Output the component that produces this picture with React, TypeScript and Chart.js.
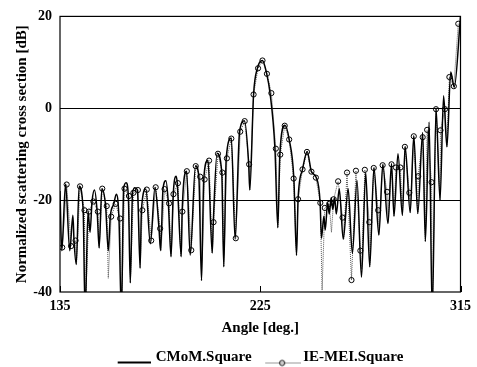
import React, { useEffect, useRef } from 'react';
import { Chart, registerables } from 'chart.js';

Chart.register(...registerables);

const FONT = "'Liberation Serif', 'Times New Roman', serif";

const xTicks = [135, 225, 315];
const yTicks = [20, 0, -20, -40];

const cmomAngles = [
  135.0, 135.8, 137.5, 139.4, 140.8, 141.3, 142.3, 143.6, 145.4, 146.3, 147.6, 148.5, 149.4, 150.5, 151.7, 152.6,
  153.8, 155.5, 156.7, 157.6, 159.2, 160.3, 161.5, 162.6, 163.6, 164.7, 165.7, 166.6, 167.6, 168.7, 169.8, 171.0,
  171.6, 173.6, 175.6, 177.7, 179.5, 180.2, 181.3, 182.6, 183.7, 184.9, 185.9, 187.2, 187.7, 189.5, 189.9, 191.9,
  193.5, 195.9, 197.4, 198.6, 199.6, 201.5, 203.4, 203.9, 205.6, 207.7, 208.6, 209.7, 212.0, 213.7, 215.7, 217.9,
  219.8, 220.3, 222.0, 223.7, 226.0, 227.9, 229.4, 231.6, 232.9, 233.8, 236.1, 238.0, 240.1, 241.3, 242.0, 244.0,
  246.1, 248.0, 250.2, 251.9, 252.5, 253.6, 254.2, 255.3, 256.0, 256.9, 257.6, 258.4, 259.2, 260.5, 262.3, 264.5,
  266.4, 268.5, 270.5, 272.4, 274.2, 276.1, 278.3, 280.1, 282.4, 284.0, 285.1, 286.9, 288.9, 290.1, 292.4, 294.0,
  295.8, 298.0, 299.2, 300.9, 302.3, 304.0, 305.8, 307.4, 308.9, 310.6, 312.2, 315.0,
];
const cmomValues = [
  -18, -31, -16.5, -31, -23.3, -28.8, -34, -17, -22.2, -45, -22.3, -27, -20.3, -17.8, -22.5, -30.4,
  -17.5, -21.3, -31, -23.6, -20.8, -18.7, -24, -45, -17.5, -16.2, -19, -38, -18.4, -17.3, -17.8, -34.8,
  -22.2, -17.6, -29.5, -17.2, -26.2, -31, -17.6, -15.8, -20.7, -32.3, -18.7, -14.8, -16.3, -32.3, -22.5, -13.7,
  -32, -12.5, -14.9, -37.5, -15.5, -11.3, -31.5, -24.8, -9.8, -14, -34.5, -10.9, -6.5, -28.5, -5.1, -2.7,
  -12.2, -17.8, 3, 8.7, 10.4, 7.5, 3.3, -8.8, -26, -10.1, -3.7, -6.8, -15.3, -32, -19.8, -13.3,
  -9.4, -13.8, -15.1, -20.5, -28.3, -23.5, -26.5, -20.5, -23, -19.5, -22, -19.5, -23, -17.5, -28.5, -17.5,
  -31.6, -15.7, -36.8, -14, -34.5, -12.9, -27.6, -12.2, -25.1, -12, -23.5, -9.9, -23.3, -8.3, -22.7, -6,
  -22.9, -5.3, -29, -3, -45, 0, -20, 2.7, -8.4, 7.9, 4.6, 20,
];

const ieMarkerAngles = [
  136, 138, 140, 142, 144, 146, 148, 150, 152, 154, 156, 158, 160, 162, 164, 166, 168, 170,
  172, 174, 176, 178, 180, 182, 184, 186, 188, 190, 192, 194, 196, 198, 200, 202, 204, 206,
  208, 210, 212, 214, 216, 218, 220, 222, 224, 226, 228, 230, 232, 234, 236, 238, 240, 242,
  244, 246, 248, 250, 252, 254, 256, 258, 260, 262, 264, 266, 268, 270, 272, 274, 276, 278,
  280, 282, 284, 286, 288, 290, 292, 294, 296, 298, 300, 302, 304, 306, 308, 310, 312, 314,
];
const ieMarkerValues = [
  -30.3, -16.6, -30, -28.8, -17, -22.2, -22.5, -20.3, -22.5, -17.5, -21.3, -23.6, -20.8, -24, -17.5, -19.1, -18.4, -17.8,
  -22.2, -17.7, -28.8, -17.2, -26.2, -17.6, -20.7, -18.7, -16.3, -22.5, -13.7, -30.9, -12.6, -14.9, -15.5, -11.4, -24.8, -9.9,
  -14, -10.9, -6.6, -28.3, -5.1, -2.8, -12.2, 3, 8.7, 10.4, 7.5, 3.3, -8.8, -10.1, -3.8, -6.8, -15.3, -19.8,
  -13.3, -9.5, -13.8, -15.1, -20.6, -21.7, -20.8, -19.8, -15.9, -23.8, -14, -37.4, -13.6, -31, -13.4, -24.8, -13, -22.2,
  -12.4, -18.2, -12.2, -12.9, -12.9, -8.4, -18.4, -6.1, -14.8, -6.3, -4.7, -16.1, -0.2, -4.8, -0.2, 6.8, 4.8, 18.4,
];

const ieDipAngles = [
  142.4, 146.3, 152.6, 156.7, 162.6, 166.6, 171.0, 180.4, 184.9, 189.3, 198.6, 203.4, 208.6, 220.3, 232.9, 241.3,
  252.8, 257.0, 262.5, 270.6, 274.2, 278.3, 282.4, 285.1, 288.9, 292.4, 295.8, 299.2, 302.3, 305.8, 308.9,
];
const ieDipValues = [
  -34, -45, -30.4, -37, -45, -38, -34.8, -31, -32.3, -32.3, -37.5, -31.5, -34.5, -17.8, -26, -32,
  -39.6, -27, -28.5, -35, -34.5, -27.6, -25, -23.5, -23.3, -22.7, -22.9, -29, -45, -20, -8.4,
];

function makeLegendIcon(kind: 'solid' | 'dotted'): HTMLCanvasElement {
  const c = document.createElement('canvas');
  const g0 = c.getContext('2d');
  const y = 15;
  if (kind === 'solid') {
    c.width = 36;
    c.height = 20;
    const g = c.getContext('2d')!;
    g.strokeStyle = '#000';
    g.lineWidth = 2;
    g.beginPath();
    g.moveTo(3, y);
    g.lineTo(36, y);
    g.stroke();
  } else {
    c.width = 42;
    c.height = 20;
    const g = c.getContext('2d')!;
    g.strokeStyle = '#333';
    g.lineWidth = 1;
    g.setLineDash([1, 1]);
    g.beginPath();
    g.moveTo(6.5, y + 0.5);
    g.lineTo(42, y + 0.5);
    g.stroke();
    g.setLineDash([]);
    g.strokeStyle = '#000';
    g.beginPath();
    g.arc(23, y + 0.5, 2.6, 0, Math.PI * 2);
    g.stroke();
  }
  void g0;
  return c;
}

const framePlugin = {
  id: 'frame',
  afterDatasetsDraw(chart: any) {
    const { ctx, chartArea: a, scales } = chart;
    ctx.save();
    ctx.strokeStyle = '#000';
    ctx.lineWidth = 1.2;
    ctx.strokeRect(a.left, a.top, a.right - a.left, a.bottom - a.top);
    ctx.lineWidth = 1;
    xTicks.forEach((v) => {
      const px = Math.round(scales.x.getPixelForValue(v)) + 0.5;
      ctx.beginPath();
      ctx.moveTo(px, a.bottom);
      ctx.lineTo(px, a.bottom - 6);
      ctx.stroke();
    });
    ctx.restore();
  },
};

export default function App() {
  const ref = useRef<HTMLCanvasElement | null>(null);

  useEffect(() => {
    if (!ref.current) return;
    const cmom = cmomAngles.map((a, i) => ({ x: a, y: cmomValues[i] }));
    const ie = [
      ...ieMarkerAngles.map((a, i) => ({ x: a, y: ieMarkerValues[i], m: true })),
      ...ieDipAngles.map((a, i) => ({ x: a, y: ieDipValues[i], m: false })),
    ].sort((p, q) => p.x - q.x);

    const iconSolid = makeLegendIcon('solid');
    const iconDotted = makeLegendIcon('dotted');

    const chart = new Chart(ref.current, {
      type: 'line',
      data: {
        datasets: [
          {
            label: 'CMoM.Square',
            data: cmom,
            borderColor: '#000',
            borderWidth: 1.5,
            pointRadius: 0,
            cubicInterpolationMode: 'monotone',
            fill: false,
          },
          {
            label: 'IE-MEI.Square',
            data: ie,
            borderColor: '#555',
            borderWidth: 1,
            borderDash: [1, 1],
            pointRadius: (c: any) => (c.raw && c.raw.m ? 2.6 : 0),
            pointBorderColor: '#000',
            pointBorderWidth: 1,
            pointBackgroundColor: 'rgba(255,255,255,0)',
            fill: false,
          },
        ],
      } as any,
      options: {
        responsive: false,
        animation: false,
        events: [],
        layout: { padding: { left: 8, right: 14, top: 16, bottom: -8 } },
        scales: {
          x: {
            type: 'linear',
            min: 135,
            max: 315,
            afterBuildTicks: (s: any) => {
              s.ticks = xTicks.map((v) => ({ value: v }));
            },
            afterFit: (s: any) => {
              s.height = 45;
            },
            grid: { display: false, drawTicks: false },
            border: { display: false },
            ticks: {
              color: '#000',
              padding: 6,
              maxRotation: 0,
              font: { family: FONT, size: 14, weight: 'bold' },
            },
            title: {
              display: true,
              text: 'Angle [deg.]',
              color: '#000',
              padding: { top: 0, bottom: 0 },
              font: { family: FONT, size: 15, weight: 'bold' },
            },
          },
          y: {
            min: -40,
            max: 20,
            afterBuildTicks: (s: any) => {
              s.ticks = yTicks.map((v) => ({ value: v }));
            },
            afterFit: (s: any) => {
              s.width = 52;
            },
            grid: {
              drawTicks: false,
              color: (c: any) => (c.tick && (c.tick.value === 0 || c.tick.value === -20) ? '#000' : 'rgba(0,0,0,0)'),
              lineWidth: 1,
            },
            border: { display: false },
            ticks: {
              color: '#000',
              padding: 8,
              font: { family: FONT, size: 14, weight: 'bold' },
            },
            title: {
              display: true,
              text: 'Normalized scattering cross section [dB]',
              color: '#000',
              padding: { top: 5, bottom: 0 },
              font: { family: FONT, size: 15, weight: 'bold' },
            },
          },
        },
        plugins: {
          tooltip: { enabled: false },
          legend: {
            display: true,
            position: 'bottom',
            fullSize: false,
            labels: {
              usePointStyle: true,
              pointStyleWidth: 31,
              boxHeight: 9,
              padding: 13,
              color: '#000',
              font: { family: FONT, size: 15, weight: 'bold' },
              generateLabels: () => [
                {
                  text: 'CMoM.Square',
                  pointStyle: iconSolid,
                  fillStyle: 'rgba(0,0,0,0)',
                  strokeStyle: 'rgba(0,0,0,0)',
                  lineWidth: 0,
                  hidden: false,
                  datasetIndex: 0,
                  fontColor: '#000',
                },
                {
                  text: 'IE-MEI.Square',
                  pointStyle: iconDotted,
                  fillStyle: 'rgba(0,0,0,0)',
                  strokeStyle: 'rgba(0,0,0,0)',
                  lineWidth: 0,
                  hidden: false,
                  datasetIndex: 1,
                  fontColor: '#000',
                },
              ],
            },
          },
        },
      } as any,
      plugins: [framePlugin],
    });
    return () => chart.destroy();
  }, []);

  return (
    <div style={{ position: 'fixed', left: 0, top: 0, width: 477, height: 367, overflow: 'hidden', background: '#fff' }}>
      <canvas ref={ref} width={477} height={367} />
    </div>
  );
}
